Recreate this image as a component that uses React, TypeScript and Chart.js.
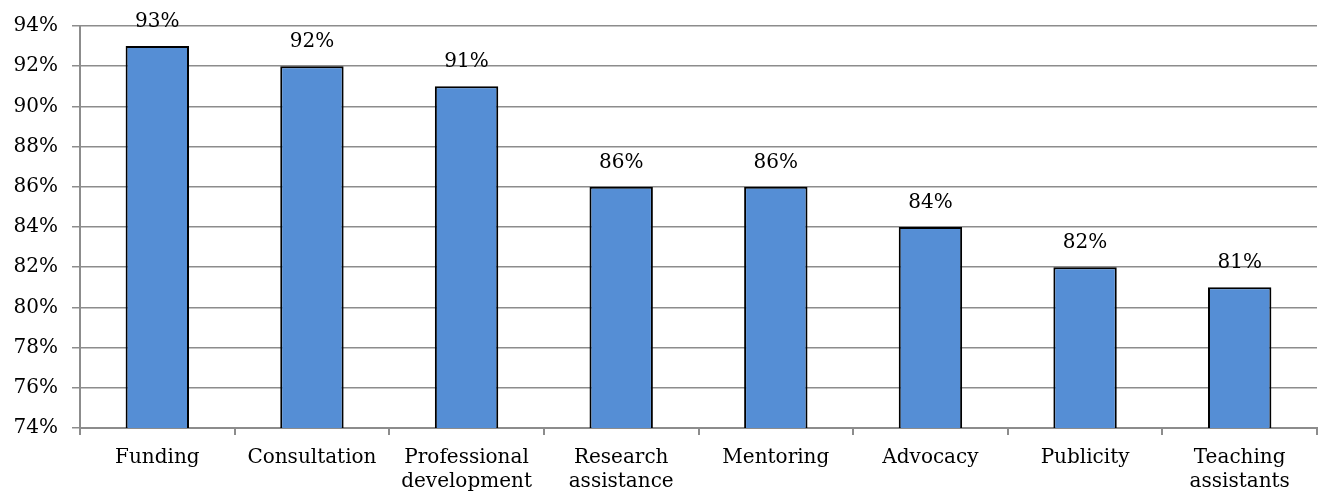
import React, { useEffect, useRef } from "react";
import { Chart, registerables } from "chart.js";

Chart.register(...registerables);

const categories: (string | string[])[] = [
  "Funding",
  "Consultation",
  ["Professional", "development"],
  ["Research", "assistance"],
  "Mentoring",
  "Advocacy",
  "Publicity",
  ["Teaching", "assistants"],
];
const values = [93, 92, 91, 86, 86, 84, 82, 81];
const yMin = 74;
const yMax = 94;
const yStep = 2;

const FONT = "'DejaVu Serif', Georgia, serif";

const valueLabels = {
  id: "valueLabels",
  afterDatasetsDraw(chart: any) {
    const ctx = chart.ctx;
    const meta = chart.getDatasetMeta(0);
    ctx.save();
    ctx.font = `20px ${FONT}`;
    ctx.fillStyle = "#000";
    ctx.textAlign = "center";
    ctx.textBaseline = "alphabetic";
    meta.data.forEach((el: any, i: number) => {
      ctx.fillText(values[i] + "%", el.x, el.y - 19);
    });
    ctx.restore();
  },
};

export default function App() {
  const ref = useRef<HTMLCanvasElement>(null);
  useEffect(() => {
    document.body.style.margin = "0";
    const chart = new Chart(ref.current!, {
      type: "bar",
      data: {
        labels: categories,
        datasets: [
          {
            data: values,
            backgroundColor: "#558ED5",
            borderColor: "#000",
            borderWidth: 2,
            barPercentage: 0.41,
            categoryPercentage: 1,
          },
        ],
      },
      options: {
        animation: false,
        responsive: false,
        maintainAspectRatio: false,
        layout: { padding: { top: 24, right: 2, left: 0, bottom: 0 } },
        plugins: { legend: { display: false }, tooltip: { enabled: false } },
        scales: {
          y: {
            min: yMin,
            max: yMax,
            afterFit: (s: any) => {
              s.width = 80;
            },
            ticks: {
              stepSize: yStep,
              callback: (v: any) => v + "%",
              color: "#000",
              font: { family: FONT, size: 20 },
              padding: 14,
            },
            grid: { color: "#8c8c8c", lineWidth: 1.5, tickLength: 8 },
            border: { color: "#8c8c8c", width: 2 },
          },
          x: {
            offset: true,
            afterFit: (s: any) => {
              s.height = 67;
            },
            ticks: {
              color: "#000",
              font: { family: FONT, size: 20, lineHeight: 1.2 },
              maxRotation: 0,
              autoSkip: false,
              padding: 11,
            },
            grid: {
              offset: true,
              drawOnChartArea: false,
              drawTicks: true,
              tickLength: 7,
              color: "#8c8c8c",
              lineWidth: 2,
            },
            border: { color: "#8c8c8c", width: 2 },
          },
        },
      },
      plugins: [valueLabels],
    });
    return () => chart.destroy();
  }, []);
  return (
    <div style={{ width: 1319, height: 495 }}>
      <canvas ref={ref} width={1319} height={495} />
    </div>
  );
}
